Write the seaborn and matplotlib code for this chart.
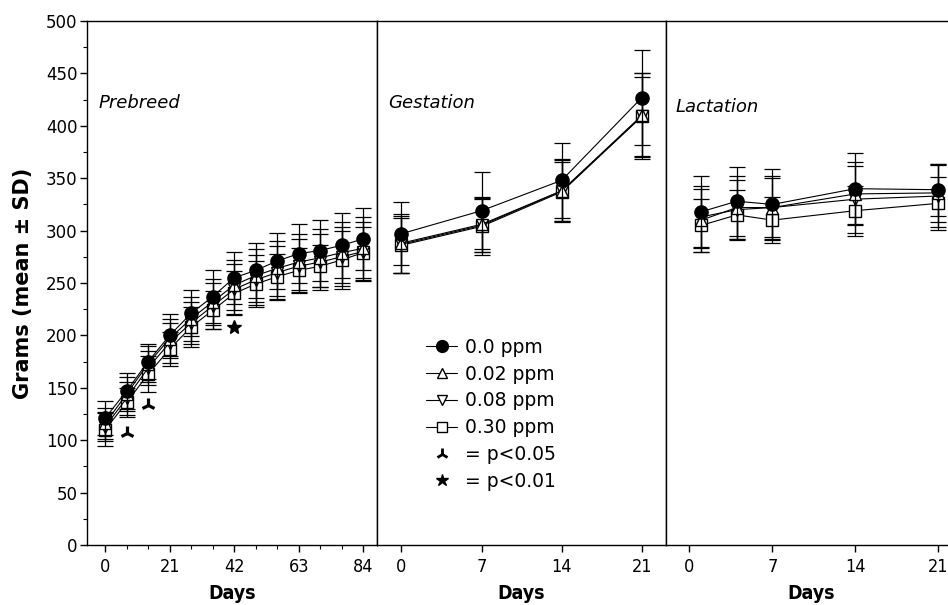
# ==========================================
# Body weight by phase (mean ± SD)
# Prebreed / Gestation / Lactation
# ==========================================

import pandas as pd
import matplotlib
matplotlib.use("Agg")
import matplotlib.pyplot as plt
from matplotlib.lines import Line2D
from matplotlib.ticker import MultipleLocator
import seaborn as sns

# ==========================================
# Data
# ==========================================

doses = ["0.0 ppm", "0.02 ppm", "0.08 ppm", "0.30 ppm"]

prebreed_days = [0, 7, 14, 21, 28, 35, 42, 49, 56, 63, 70, 77, 84]
prebreed_mean_00 = [121, 147, 175, 200, 221, 237, 255, 262, 271, 278, 281, 286, 292]
prebreed_mean_002 = [116, 144, 173, 197, 216, 232, 248, 257, 264, 270, 274, 279, 283]
prebreed_mean_008 = [113, 140, 169, 193, 212, 228, 244, 253, 260, 266, 270, 275, 280]
prebreed_mean_030 = [110, 136, 163, 187, 208, 224, 240, 249, 256, 262, 266, 272, 279]
prebreed_sd_00 = [16, 17, 17, 20, 22, 25, 25, 26, 27, 28, 29, 31, 30]
prebreed_sd_002 = [15, 16, 17, 19, 21, 22, 24, 25, 26, 27, 28, 29, 30]
prebreed_sd_008 = [14, 16, 16, 19, 20, 22, 24, 24, 25, 26, 27, 28, 28]
prebreed_sd_030 = [16, 14, 17, 16, 19, 18, 21, 22, 22, 21, 20, 28, 24]

gestation_days = [0, 7, 14, 21]
gestation_mean_00 = [297, 319, 348, 427]
gestation_mean_002 = [288, 306, 338, 410]
gestation_mean_008 = [287, 305, 338, 409]
gestation_mean_030 = [286, 304, 337, 409]
gestation_sd_00 = [30, 37, 36, 45]
gestation_sd_002 = [28, 26, 30, 40]
gestation_sd_008 = [27, 25, 29, 38]
gestation_sd_030 = [26, 27, 28, 41]

lactation_days = [1, 4, 7, 14, 21]
lactation_mean_00 = [318, 328, 325, 340, 339]
lactation_mean_002 = [310, 322, 322, 335, 336]
lactation_mean_008 = [313, 320, 322, 330, 333]
lactation_mean_030 = [305, 315, 310, 319, 326]
lactation_sd_00 = [34, 33, 34, 34, 25]
lactation_sd_002 = [30, 30, 30, 30, 28]
lactation_sd_008 = [30, 28, 28, 32, 30]
lactation_sd_030 = [25, 24, 22, 24, 25]

# significance markers (prebreed panel)
sig05_days = [7, 14]
sig05_y = [107, 134]
sig01_days = [42]
sig01_y = [208]

prebreed_ticks = [0, 21, 42, 63, 84]
phase_ticks = [0, 7, 14, 21]

# ==========================================
# Build long tables
# ==========================================

def build_table(days, means, sds):
    rows = []
    for dose, m, s in zip(doses, means, sds):
        for d, mv, sv in zip(days, m, s):
            rows.append({"dose": dose, "day": d, "mean": mv, "sd": sv})
    return pd.DataFrame(rows)

prebreed = build_table(
    prebreed_days,
    [prebreed_mean_00, prebreed_mean_002, prebreed_mean_008, prebreed_mean_030],
    [prebreed_sd_00, prebreed_sd_002, prebreed_sd_008, prebreed_sd_030]
)
gestation = build_table(
    gestation_days,
    [gestation_mean_00, gestation_mean_002, gestation_mean_008, gestation_mean_030],
    [gestation_sd_00, gestation_sd_002, gestation_sd_008, gestation_sd_030]
)
lactation = build_table(
    lactation_days,
    [lactation_mean_00, lactation_mean_002, lactation_mean_008, lactation_mean_030],
    [lactation_sd_00, lactation_sd_002, lactation_sd_008, lactation_sd_030]
)

# marker, face colour, size
marker_style = {
    "0.0 ppm": ("o", "black", 9.5),
    "0.02 ppm": ("^", "white", 8.5),
    "0.08 ppm": ("v", "white", 8.5),
    "0.30 ppm": ("s", "white", 8.5),
}

# ==========================================
# Figure
# ==========================================

sns.set_theme(style="ticks")
plt.rcParams["font.family"] = ["DejaVu Sans"]
plt.rcParams["text.color"] = "black"
plt.rcParams["axes.labelcolor"] = "black"
plt.rcParams["axes.edgecolor"] = "black"
plt.rcParams["axes.linewidth"] = 1.0
plt.rcParams["xtick.color"] = "black"
plt.rcParams["ytick.color"] = "black"

fig = plt.figure(figsize=(9.48, 6.05), dpi=100)

bottom = 60 / 605
height = 524 / 605
ax1 = fig.add_axes([87 / 948, bottom, 290 / 948, height])
ax2 = fig.add_axes([377 / 948, bottom, 289 / 948, height], sharey=ax1)
ax3 = fig.add_axes([666 / 948, bottom, 290 / 948, height], sharey=ax1)


def draw_panel(ax, frame):
    for dose in reversed(doses):
        sub = frame[frame["dose"] == dose]
        marker, face, size = marker_style[dose]
        ax.errorbar(
            sub["day"], sub["mean"], yerr=sub["sd"],
            fmt="none", ecolor="black", elinewidth=0.9,
            capsize=6, capthick=0.9
        )
        sns.lineplot(
            data=sub, x="day", y="mean", ax=ax,
            color="black", linewidth=0.8, errorbar=None,
            marker=marker, markersize=size,
            markerfacecolor=face, markeredgecolor="black",
            markeredgewidth=1.0
        )


draw_panel(ax1, prebreed)
draw_panel(ax2, gestation)
draw_panel(ax3, lactation)

# significance symbols
ax1.plot(sig05_days, sig05_y, linestyle="none", marker="2",
         markersize=10, markeredgewidth=2.3, color="black")
ax1.plot(sig01_days, sig01_y, linestyle="none", marker="*",
         markersize=10, color="black")

# ==========================================
# Axes formatting
# ==========================================

ax1.set_ylim(0, 500)
ax1.yaxis.set_major_locator(MultipleLocator(50))
ax1.yaxis.set_minor_locator(MultipleLocator(25))
ax1.set_xlim(-5.9, 88.5)
ax1.set_xticks(prebreed_ticks)
ax1.set_xticklabels([str(t) for t in prebreed_ticks], fontstretch="condensed", fontsize=13)
ax1.xaxis.set_minor_locator(MultipleLocator(7))

ax2.set_xlim(-2.13, 23.1)
ax2.set_xticks(phase_ticks)
ax2.set_xticklabels([str(t) for t in phase_ticks], fontstretch="condensed", fontsize=13)
ax3.set_xlim(-1.98, 22.5)
ax3.set_xticks(phase_ticks)
ax3.set_xticklabels([str(t) for t in phase_ticks], fontstretch="condensed", fontsize=13)

for ax in [ax1, ax2, ax3]:
    for side in ["top", "right", "left", "bottom"]:
        ax.spines[side].set_visible(True)
        ax.spines[side].set_color("black")
    ax.tick_params(axis="both", which="major", direction="out",
                   length=5, width=1)
    ax.tick_params(axis="y", labelsize=12)
    ax.tick_params(axis="both", which="minor", direction="out",
                   length=3, width=0.8)
    ax.tick_params(axis="x", pad=4)
    ax.set_xlabel("Days", fontsize=14, fontweight="bold",
                  fontstretch="condensed", labelpad=6)
    ax.set_ylabel("")

for ax in [ax2, ax3]:
    ax.tick_params(axis="y", which="both", left=False, labelleft=False)

ax1.tick_params(axis="y", pad=2)
ax1.set_ylabel("Grams (mean ± SD)", fontsize=15, fontweight="bold", labelpad=9)

# panel titles
ax1.text(0.038, 0.843, "Prebreed", transform=ax1.transAxes,
         style="italic", fontsize=13, va="center")
ax2.text(0.038, 0.843, "Gestation", transform=ax2.transAxes,
         style="italic", fontsize=13, va="center")
ax3.text(0.032, 0.836, "Lactation", transform=ax3.transAxes,
         style="italic", fontsize=13, va="center")

# ==========================================
# Legend
# ==========================================

handles = []
for dose in doses:
    marker, face, size = marker_style[dose]
    handles.append(Line2D([0], [0], color="black", linewidth=0.8,
                          marker=marker, markersize=size - 1,
                          markerfacecolor=face, markeredgecolor="black"))
handles.append(Line2D([0], [0], linestyle="none", marker="2",
                      markersize=9, markeredgewidth=2.0, color="black"))
handles.append(Line2D([0], [0], linestyle="none", marker="*",
                      markersize=9, color="black"))
labels = doses + ["= p<0.05", "= p<0.01"]

ax2.legend(handles, labels, loc="upper left", bbox_to_anchor=(0.145, 0.41),
           frameon=False, fontsize=13.5, handlelength=1.65,
           handletextpad=0.4, labelspacing=0.42, borderaxespad=0)

plt.savefig("out.png", dpi=100)
